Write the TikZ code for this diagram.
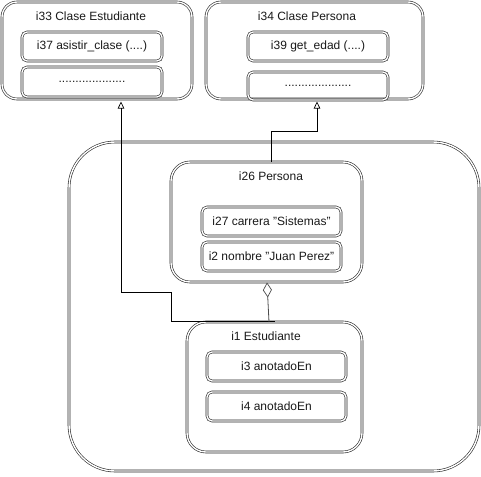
\documentclass[tikz,border=0pt]{standalone}
\usepackage{fontspec}
\setmainfont{Liberation Sans}
\usetikzlibrary{arrows.meta,calc}
\begin{document}
\begin{tikzpicture}[x=1pt,y=-1pt,
  dbox/.style={draw=black!85,double=white,double distance=1.4pt,line width=0.6pt,
    inner sep=0pt,outer sep=0pt,rectangle},
  txt/.style={font=\fontsize{12}{14}\selectfont,inner sep=0pt,text=black!90},
  conn/.style={draw=black,line width=0.8pt},
  inh/.style={conn,-{Triangle[open,length=7pt,width=6.5pt,line width=0.7pt]}},
  agg/.style={draw=black!70,line width=0.8pt,-{Diamond[open,length=15pt,width=9pt,line width=0.7pt]}}]
\useasboundingbox (0,0) rectangle (481,476);
% big container
\node[dbox,rounded corners=46pt,minimum width=410pt,minimum height=329pt] (big) at (274,306.5) {};
% class boxes
\node[dbox,rounded corners=15pt,minimum width=190pt,minimum height=97pt] (i33) at (97,50.5) {};
\node[txt] (t33) at (91,16) {i33 Clase Estudiante};
\node[dbox,rounded corners=5pt,minimum width=140pt,minimum height=29pt] (i37) at (92,46.5) {};
\node[txt] at (i37) {i37 asistir\_clase (....)};
\node[dbox,rounded corners=5pt,minimum width=140pt,minimum height=30pt] (d33) at (92,82) {};
\node[txt] at (d33) {....................};
\node[dbox,rounded corners=15pt,minimum width=217pt,minimum height=97pt] (i34) at (314.5,50.5) {};
\node[txt] (t34) at (307,16) {i34 Clase Persona};
\node[dbox,rounded corners=5pt,minimum width=140pt,minimum height=29pt] (i39) at (318,46.5) {};
\node[txt] at (i39) {i39 get\_edad (....)};
\node[dbox,rounded corners=5pt,minimum width=140pt,minimum height=28pt] (d34) at (318,86) {};
\node[txt] at (d34) {....................};
% objects
\node[dbox,rounded corners=19pt,minimum width=191pt,minimum height=120pt] (i26) at (266.5,222) {};
\node[txt] (t26) at (271,176) {i26 Persona};
\node[dbox,rounded corners=5pt,minimum width=139pt,minimum height=29pt] (i27) at (271.5,221.5) {};
\node[txt] at (i27) {i27 carrera "Sistemas"};
\node[dbox,rounded corners=5pt,minimum width=139pt,minimum height=29pt] (i2) at (271.5,256.5) {};
\node[txt] at (i2) {i2 nombre "Juan Perez"};
\node[dbox,rounded corners=19pt,minimum width=175pt,minimum height=130pt] (i1) at (274.5,387) {};
\node[txt] (t1) at (266,336) {i1 Estudiante};
\node[dbox,rounded corners=5pt,minimum width=139pt,minimum height=29pt] (i3) at (276.5,366.5) {};
\node[txt] at (i3) {i3 anotadoEn};
\node[dbox,rounded corners=5pt,minimum width=139pt,minimum height=29pt] (i4) at (276.5,406.5) {};
\node[txt] at (i4) {i4 anotadoEn};
% connectors
\draw[inh] ([xshift=4.5pt]i26.north) -- ++(0,-31) -| ([xshift=2.5pt,yshift=-2.5pt]i34.south);
\draw[inh] ([yshift=0.5pt]i1.north) -| (171,292) -| ([xshift=24pt,yshift=-2.5pt]i33.south);
\draw[agg] ([xshift=-5.5pt]i1.north) -- ([xshift=0.5pt,yshift=-0.5pt]i26.south);
\end{tikzpicture}
\end{document}
